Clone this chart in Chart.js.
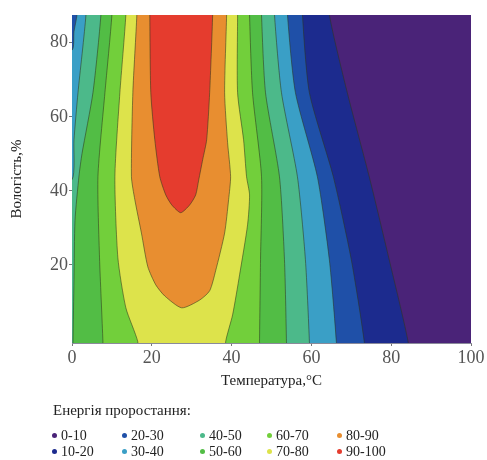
<!DOCTYPE html>
<html><head><meta charset="utf-8">
<script src="https://cdn.jsdelivr.net/npm/chart.js@4.4.1/dist/chart.umd.min.js"></script>
<style>
body{margin:0;background:#fff;}
#wrap{position:relative;width:487px;height:460px;overflow:hidden;}
#c{position:absolute;left:0;top:0;}
.lg{position:absolute;font-family:'Liberation Serif',serif;color:#222;white-space:nowrap;}
.lgt{font-size:15px;line-height:18px;}
.lgi{font-size:14px;line-height:16px;}
.dot{display:inline-block;width:5px;height:5px;border-radius:50%;margin-right:4px;vertical-align:middle;position:relative;top:-1px;}
</style></head>
<body><div id="wrap"><canvas id="c" width="487" height="460"></canvas></div>
<script>
// ---- data ----
const levels = ['0-10','10-20','20-30','30-40','40-50','50-60','60-70','70-80','80-90','90-100'];
const levelColors = ['#4a2378','#1c2b8e','#1f50a8','#3a9fc6','#4cb98a','#52bd45','#72cf3b','#dde34b','#e88e30','#e53c2e'];
const xTicks = [0,20,40,60,80,100];
const yTicks = [20,40,60,80];
const legendTitle = 'Енергія проростання:';

// contour lines [temperature, humidity], listed from top to bottom
const c10R = [[64.5,87.6],[69,66.5],[74.5,43.8],[79.5,21.4],[84.25,-0.8]];
const c20R = [[57.75,87.6],[59.5,66.5],[65.5,43.8],[70,21.4],[73.25,-0.8]];
const c30R = [[54,87.6],[56,66.5],[61.5,43.8],[64.5,21.4],[66.25,-0.8]];
const c30L = [[1.25,87.6],[0.5,83],[0,78]];
const c40R = [[50.75,87.6],[52.5,66.5],[56.5,43.8],[58.5,21.4],[59.5,-0.8]];
const c40L = [[3.5,87.6],[1.5,66.5],[0.5,53.8],[0,43]];
const c50R = [[47.5,87.6],[48.5,66.5],[52,43.8],[53.25,21.4],[53.75,-0.8]];
const c50L = [[7.25,87.6],[5.25,66.5],[2.5,50],[1.75,44],[0.75,32],[0.5,16],[0.25,-0.8]];
const c60R = [[44.5,87.6],[45.25,66.5],[47.5,43.8],[47.25,21.4],[47,-0.8]];
const c60L = [[10,87.6],[8.25,66.5],[6.5,43.8],[6.9,21.9],[7.75,-0.8]];
const c70R = [[41.5,87.6],[41.5,66.5],[43,53.8],[43.75,43.8],[44.5,38.9],[44,30.8],[42,17.3],[40.25,6.5],[38.5,-0.8]];
const c70L = [[13.5,87.6],[12,66.5],[10.75,43.8],[11.5,21.9],[13.5,8.4],[16.5,-0.8]];
// closed contours: down the left side, round the bottom, up the right side
const c80 = [[16.25,87.6],[15.25,66.5],[14.9,43.8],[15.75,37.6],[17.4,28.6],[19,19.5],[21,14.6],[23.25,11.6],[27.5,8.4],
             [32,10.5],[34.5,13],[36,18.4],[38.25,28.6],[39.25,37.6],[39.75,43.8],[39,53],[38.25,66.5],[38.75,87.6]];
const c90 = [[19.5,87.6],[19.75,66.5],[20.75,53.8],[22,43.8],[23.5,38.9],[25,36.2],[27.25,34.1],[29.5,36.2],[31,38.9],
             [31.75,42.9],[32.75,48.4],[33.75,53.8],[34.5,66.5],[35.25,87.6]];

// ---- build filled regions (superlevel sets) ----
const TOP = 96, BOT = -6, LEFT = -6, RIGHT = 106;
const last = a => a[a.length-1];
const extV = a => [[a[0][0],TOP], ...a, [last(a)[0],BOT]];
const rev = a => a.slice().reverse();
const regions = [
  [[LEFT,TOP],[RIGHT,TOP],[RIGHT,BOT],[LEFT,BOT]],
  [[LEFT,TOP], ...extV(c10R), [LEFT,BOT]],
  [[LEFT,TOP], ...extV(c20R), [LEFT,BOT]],
  [...extV(c30R), [LEFT,BOT], [LEFT,last(c30L)[1]], ...rev(c30L), [c30L[0][0],TOP]],
  [...extV(c40R), [LEFT,BOT], [LEFT,last(c40L)[1]], ...rev(c40L), [c40L[0][0],TOP]],
  [...extV(c50R), ...rev(extV(c50L))],
  [...extV(c60R), ...rev(extV(c60L))],
  [...extV(c70R), ...rev(extV(c70L))],
  [[c80[0][0],TOP], ...c80, [last(c80)[0],TOP]],
  [[c90[0][0],TOP], ...c90, [last(c90)[0],TOP]]
];

const datasets = regions.map((pts, i) => ({
  label: levels[i],
  data: pts.map(([x,y]) => ({x, y})),
  backgroundColor: levelColors[i],
  borderColor: i === 0 ? 'rgba(0,0,0,0)' : 'rgba(45,55,30,0.55)',
  borderWidth: i === 0 ? 0 : 1,
  fill: 'shape',
  pointRadius: 0,
  tension: 0.22
})).reverse();

const serif = 'Liberation Serif';
new Chart(document.getElementById('c'), {
  type: 'line',
  data: { datasets },
  options: {
    responsive: false,
    animation: false,
    layout: { padding: { left: 0, top: 15, right: 16, bottom: 67 } },
    plugins: { legend: { display: false }, tooltip: { enabled: false } },
    scales: {
      x: {
        type: 'linear', min: 0, max: 100,
        afterBuildTicks: s => { s.ticks = xTicks.map(v => ({ value: v })); },
        afterFit: s => { s.height = 50; },
        ticks: { font: { family: serif, size: 18 }, color: '#555', padding: 1, maxRotation: 0, autoSkip: false },
        grid: { display: true, drawOnChartArea: false, drawTicks: true, tickLength: 3, color: '#777' },
        border: { display: true, color: '#8a8a9a' },
        title: { display: true, text: 'Температура,°C', font: { family: serif, size: 15 }, color: '#222', padding: { top: 0, bottom: 3 } }
      },
      y: {
        type: 'linear', min: -1.1, max: 87.5,
        afterBuildTicks: s => { s.ticks = yTicks.map(v => ({ value: v })); },
        afterFit: s => { s.width = 72; },
        ticks: { font: { family: serif, size: 18 }, color: '#555', padding: 1 },
        grid: { display: true, drawOnChartArea: false, drawTicks: true, tickLength: 3, color: '#777' },
        border: { display: true, color: '#8a8a9a' },
        title: { display: true, text: 'Вологість,%', font: { family: serif, size: 15 }, color: '#222', padding: { top: 8, bottom: 0 } }
      }
    }
  }
});

// ---- legend (HTML) ----
const wrap = document.getElementById('wrap');
const t = document.createElement('div');
t.className = 'lg lgt'; t.style.left = '53px'; t.style.top = '401px'; t.textContent = legendTitle;
wrap.appendChild(t);
const colX = [52, 122, 200, 267, 337];
const rowTop = [428, 444];
levels.forEach((lab, i) => {
  const d = document.createElement('div');
  d.className = 'lg lgi';
  d.style.left = colX[Math.floor(i/2)] + 'px';
  d.style.top = rowTop[i % 2] + 'px';
  const dot = document.createElement('span');
  dot.className = 'dot'; dot.style.background = levelColors[i];
  d.appendChild(dot);
  d.appendChild(document.createTextNode(lab));
  wrap.appendChild(d);
});
</script>
</body></html>
